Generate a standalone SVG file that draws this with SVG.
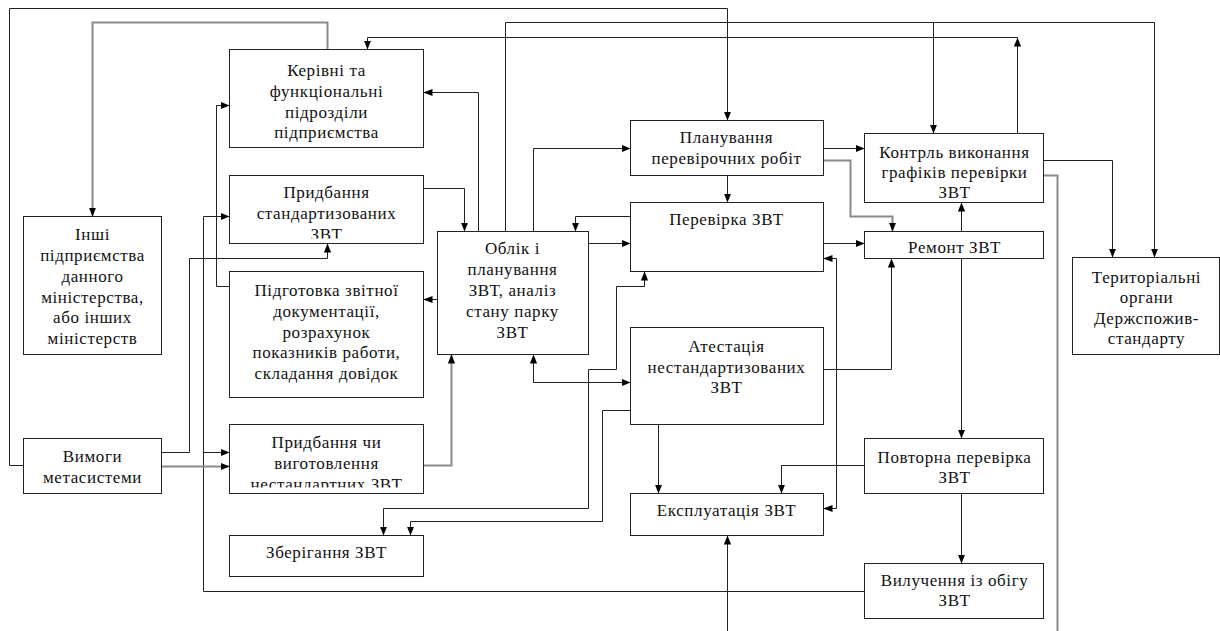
<svg xmlns="http://www.w3.org/2000/svg" width="1220" height="631" viewBox="0 0 1220 631">
<style>
.box{fill:#fff;stroke:#222;stroke-width:1}
.t{font-size:17px;fill:#111;text-anchor:middle;letter-spacing:0.6px}
.c{fill:none;stroke:#222;stroke-width:1}
.g{fill:none;stroke:#8a8a8a;stroke-width:2}
.a{marker-end:url(#ah)}
.s{marker-start:url(#ah)}
</style>
<defs>
<marker id="ah" viewBox="0 0 10 10" refX="10" refY="5" markerWidth="9" markerHeight="9" orient="auto-start-reverse" markerUnits="userSpaceOnUse"><path d="M0,1 L10,5 L0,9 z" fill="#000"/></marker>
<clipPath id="clipStd"><rect x="229" y="175" width="194" height="63"/></clipPath>
<clipPath id="clipNst"><rect x="229" y="424" width="194" height="63"/></clipPath>
</defs>
<rect width="1220" height="631" fill="#fff"/>
<g transform="translate(0.5,0.5)" font-family="Liberation Serif, Times New Roman, Times, DejaVu Serif, Noto Serif, serif">
<g id="connectors">
<path class="c a" d="M23,465 H9 V8 H727 V120"/>
<path class="c a" d="M1017,133 V37"/>
<path class="c a" d="M1017,37 H367 V49"/>
<path class="c a" d="M505,231 V22 H1154 V257"/>
<path class="c a" d="M933,22 V133"/>
<path class="c a" d="M478,231 V92 H423"/>
<path class="c a" d="M423,188 H464 V231"/>
<path class="c a" d="M533,231 V148 H630"/>
<path class="c a" d="M727,175 V202"/>
<path class="c a" d="M630,216 H575 V231"/>
<path class="c a" d="M588,243 H630"/>
<path class="c a" d="M823,148 H864"/>
<path class="c a" d="M961,231 V202"/>
<path class="c a" d="M823,243 H864"/>
<path class="c a" d="M1043,160 H1112 V257"/>
<path class="c a" d="M229,286 H216 V105 H229"/>
<path class="c a" d="M437,299 H423"/>
<path class="c a" d="M161,452 H189 V258 H327 V243"/>
<path class="c a" d="M864,591 H203 V216 H229"/>
<path class="c a" d="M203,452 H229"/>
<path class="c a s" d="M533,354 V382 H630"/>
<path class="c a s" d="M383,535 V508 H588 V369 H616 V286 H644 V271"/>
<path class="c a" d="M630,410 H602 V521 H410 V535"/>
<path class="c a" d="M658,424 V493"/>
<path class="c a" d="M823,369 H891 V258"/>
<path class="c a" d="M961,258 V438"/>
<path class="c a s" d="M823,258 H836 V508 H823"/>
<path class="c a" d="M864,465 H781 V493"/>
<path class="c a" d="M961,493 V563"/>
<path class="c a" d="M727,631 V535"/>
<path class="g a" d="M327,49 V22 H92 V216"/>
<path class="g a" d="M161,466 H229"/>
<path class="g a" d="M423,465 H451 V354"/>
<path class="g a" d="M823,160 H850 V216 H892 V231"/>
<path class="g" d="M1043,175 H1057 V631"/>
</g>
<g id="n-kerivni"><rect class="box" x="229" y="49" width="194" height="98"/>
<text class="t" x="326" y="75">Керівні та</text><text class="t" x="326" y="96">функціональні</text><text class="t" x="326" y="117">підрозділи</text><text class="t" x="326" y="137">підприємства</text></g>
<g id="n-prydb-std"><rect class="box" x="229" y="175" width="194" height="68"/>
<g clip-path="url(#clipStd)"><text class="t" x="326" y="197">Придбання</text><text class="t" x="326" y="218">стандартизованих</text><text class="t" x="326" y="239">ЗВТ</text></g></g>
<g id="n-pidgotovka"><rect class="box" x="229" y="271" width="194" height="126"/>
<text class="t" x="326" y="295">Підготовка звітної</text><text class="t" x="326" y="316">документації,</text><text class="t" x="326" y="337">розрахунок</text><text class="t" x="326" y="357">показників работи,</text><text class="t" x="326" y="378">складання довідок</text></g>
<g id="n-prydb-nst"><rect class="box" x="229" y="424" width="194" height="69"/>
<g clip-path="url(#clipNst)"><text class="t" x="326" y="447">Придбання чи</text><text class="t" x="326" y="468">виготовлення</text><text class="t" x="326" y="489">нестандартних ЗВТ</text></g></g>
<g id="n-zberigannya"><rect class="box" x="229" y="535" width="194" height="41"/>
<text class="t" x="326" y="557">Зберігання ЗВТ</text></g>
<g id="n-inshi"><rect class="box" x="23" y="216" width="138" height="138"/>
<text class="t" x="92" y="239">Інші</text><text class="t" x="92" y="260">підприємства</text><text class="t" x="92" y="281">данного</text><text class="t" x="92" y="302">міністерства,</text><text class="t" x="92" y="322">або інших</text><text class="t" x="92" y="343">міністерств</text></g>
<g id="n-vymogy"><rect class="box" x="23" y="438" width="138" height="55"/>
<text class="t" x="92" y="461">Вимоги</text><text class="t" x="92" y="482">метасистеми</text></g>
<g id="n-oblik"><rect class="box" x="437" y="231" width="151" height="123"/>
<text class="t" x="512" y="253">Облік і</text><text class="t" x="512" y="274">планування</text><text class="t" x="512" y="295">ЗВТ, аналіз</text><text class="t" x="512" y="316">стану парку</text><text class="t" x="512" y="337">ЗВТ</text></g>
<g id="n-planuvannya"><rect class="box" x="630" y="120" width="193" height="55"/>
<text class="t" x="726" y="142">Планування</text><text class="t" x="726" y="163">перевірочних робіт</text></g>
<g id="n-perevirka"><rect class="box" x="630" y="202" width="193" height="69"/>
<text class="t" x="726" y="224">Перевірка ЗВТ</text></g>
<g id="n-atestatsiya"><rect class="box" x="630" y="327" width="193" height="97"/>
<text class="t" x="726" y="351">Атестація</text><text class="t" x="726" y="372">нестандартизованих</text><text class="t" x="726" y="392">ЗВТ</text></g>
<g id="n-ekspluatatsiya"><rect class="box" x="630" y="493" width="193" height="42"/>
<text class="t" x="726" y="515">Експлуатація ЗВТ</text></g>
<g id="n-kontrol"><rect class="box" x="864" y="133" width="179" height="69"/>
<text class="t" x="954" y="157">Контрль виконання</text><text class="t" x="954" y="177">графіків перевірки</text><text class="t" x="954" y="197">ЗВТ</text></g>
<g id="n-remont"><rect class="box" x="864" y="231" width="179" height="27"/>
<text class="t" x="954" y="252">Ремонт ЗВТ</text></g>
<g id="n-povtorna"><rect class="box" x="864" y="438" width="179" height="55"/>
<text class="t" x="954" y="462">Повторна перевірка</text><text class="t" x="954" y="482">ЗВТ</text></g>
<g id="n-vyluchennya"><rect class="box" x="864" y="563" width="179" height="55"/>
<text class="t" x="954" y="585">Вилучення із обігу</text><text class="t" x="954" y="605">ЗВТ</text></g>
<g id="n-terytorialni"><rect class="box" x="1072" y="257" width="147" height="97"/>
<text class="t" x="1146" y="282">Територіальні</text><text class="t" x="1146" y="302">органи</text><text class="t" x="1146" y="323">Держспожив-</text><text class="t" x="1146" y="343">стандарту</text></g>
</g>
</svg>
